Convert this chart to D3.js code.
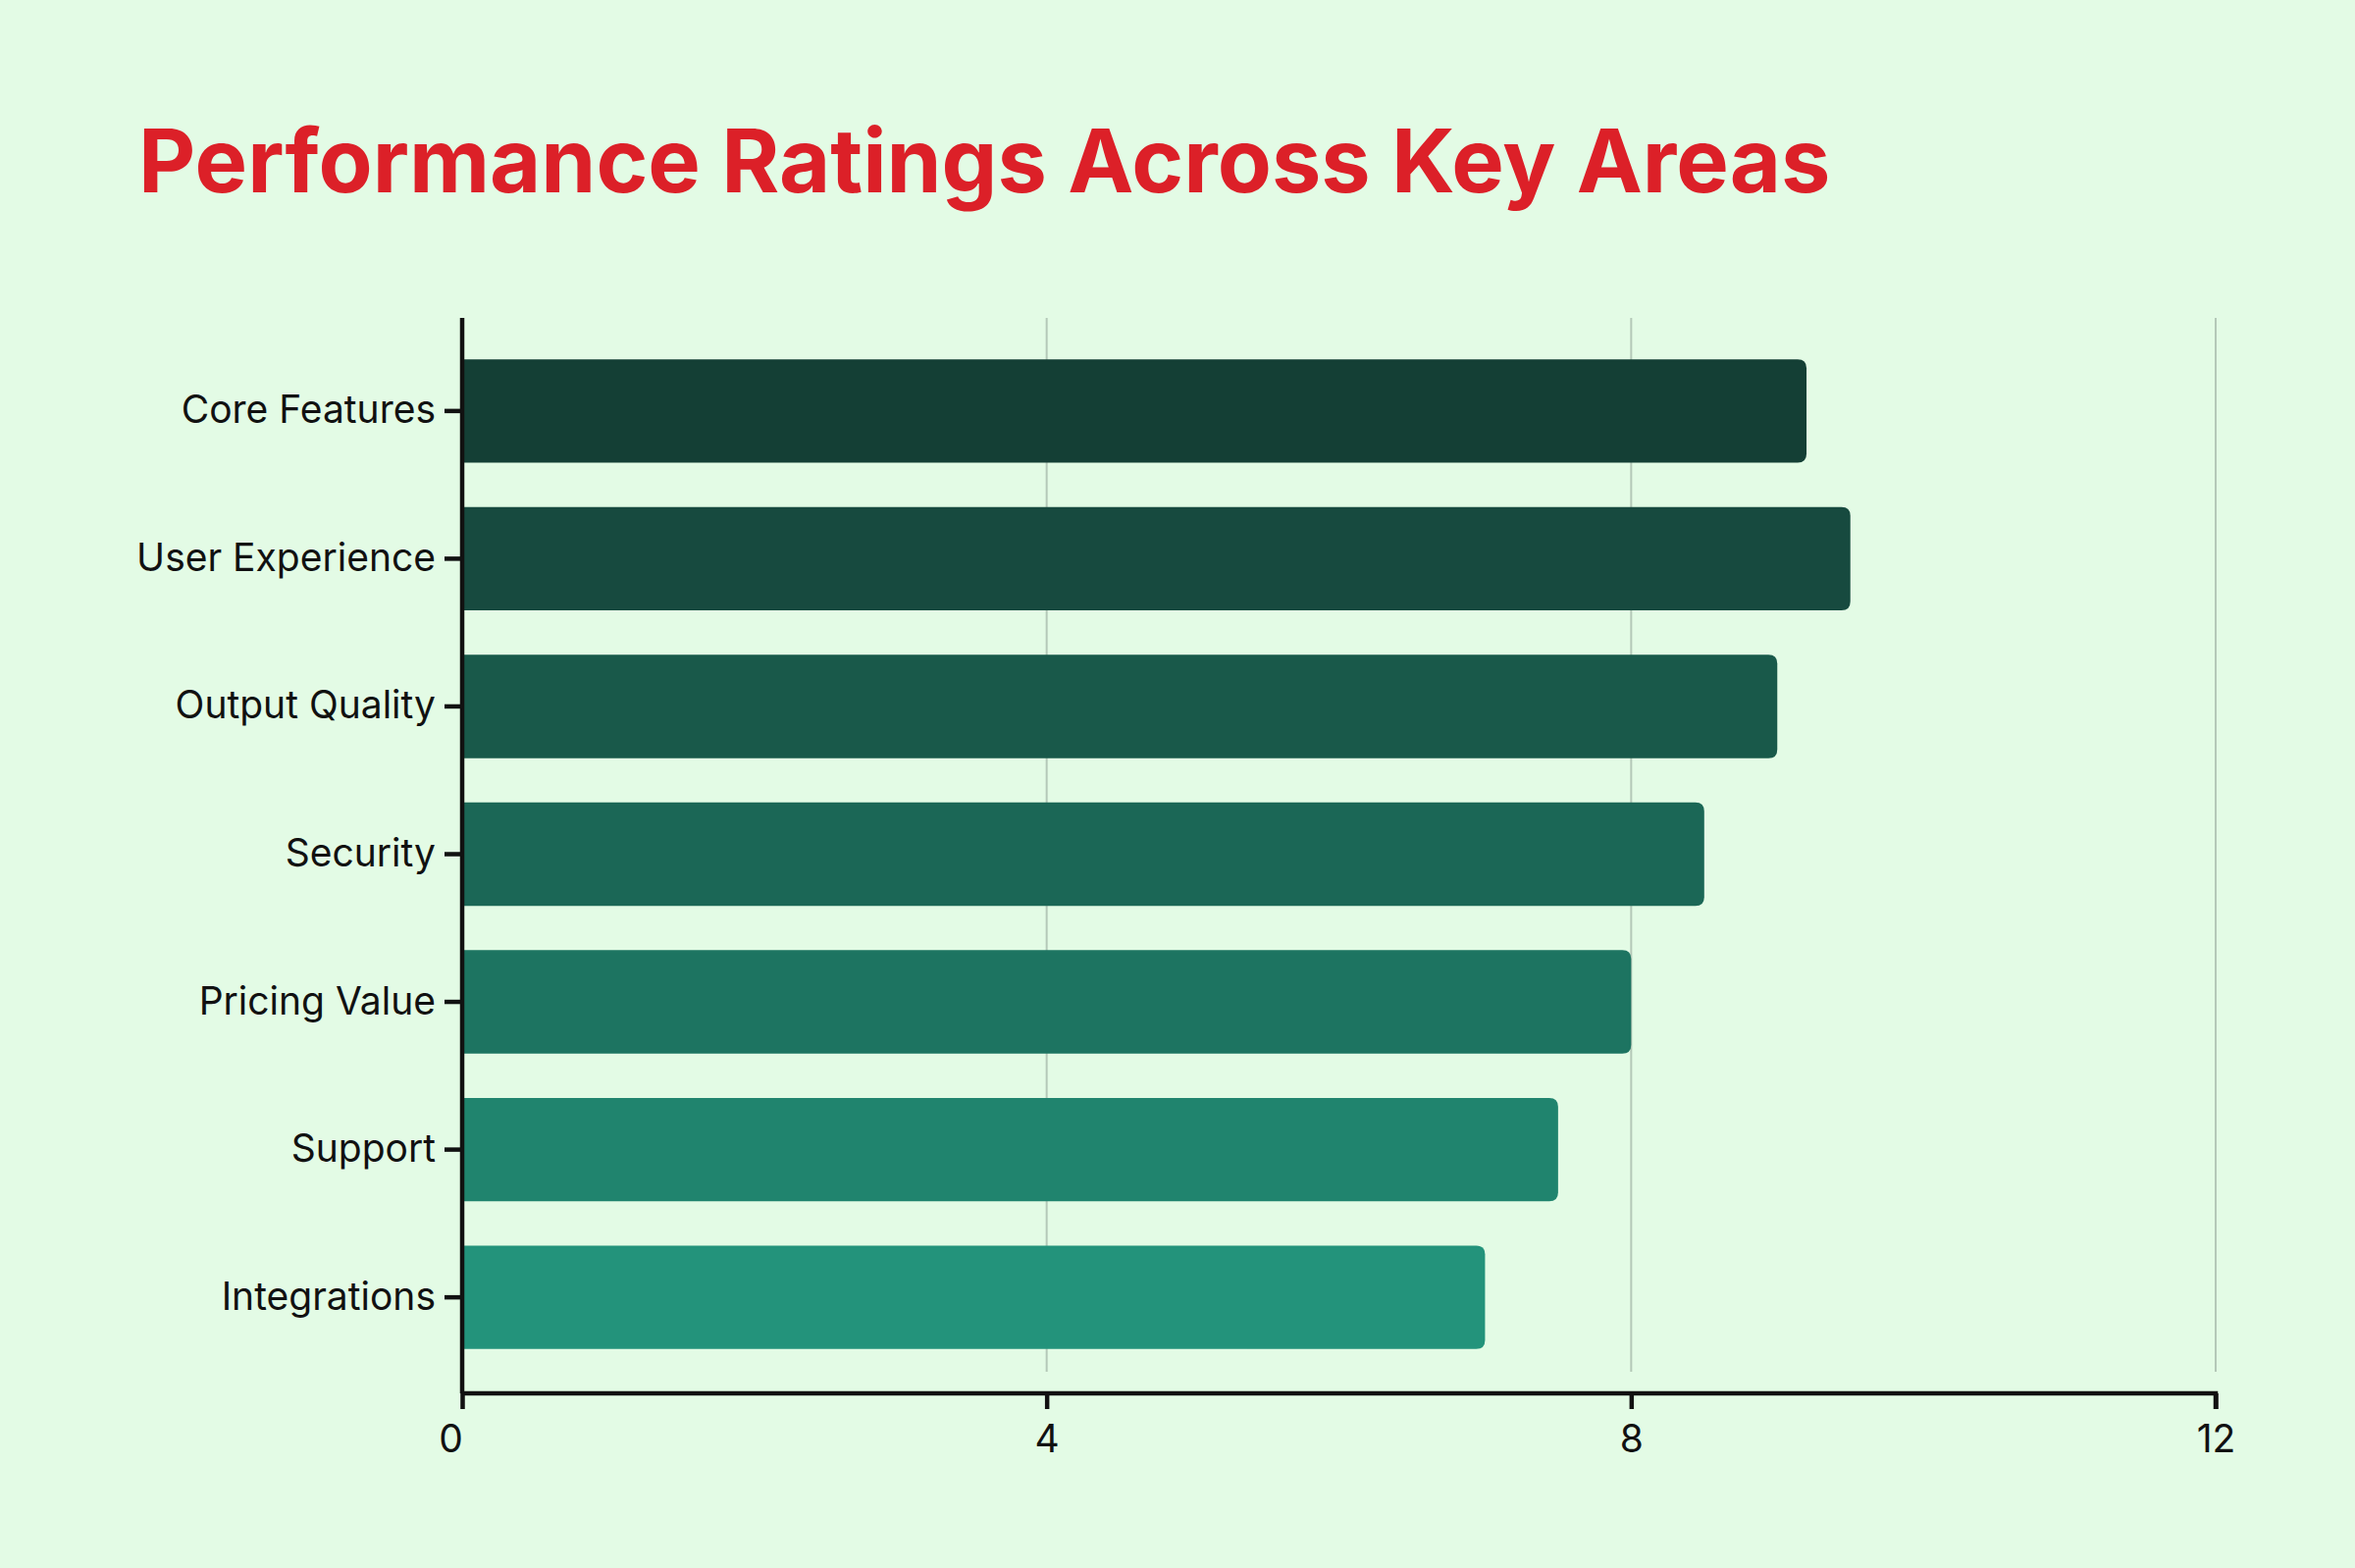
<!DOCTYPE html>
<html>
<head>
<meta charset="utf-8">
<script src="https://cdn.jsdelivr.net/npm/d3@7"></script>
<style>
  html, body { margin: 0; padding: 0; background: #e3fbe5; }
  svg { display: block; font-family: Inter, "Noto Sans", sans-serif; }
</style>
</head>
<body>
<svg width="2400" height="1598"></svg>
<script>
var categories = ["Core Features", "User Experience", "Output Quality", "Security", "Pricing Value", "Support", "Integrations"];
var ratings = [9.2, 9.5, 9.0, 8.5, 8.0, 7.5, 7.0];
var barColors = ["#143f35", "#174a3f", "#19594a", "#1b6756", "#1d7461", "#20846e", "#23937b"];
var xTicks = [0, 4, 8, 12];

function main(){
    var data = categories.map(function(c, i){ return {name: c, value: ratings[i], color: barColors[i]}; });

    var svg = d3.select("svg");

    svg.append("rect").attr("width", 2400).attr("height", 1598).attr("fill", "#e3fbe5");

    svg.append("text")
        .attr("x", 141)
        .attr("y", 196)
        .attr("fill", "#dc2028")
        .attr("font-size", "90px")
        .attr("font-weight", 700)
        .text("Performance Ratings Across Key Areas");

    var plotLeft = 471, plotRight = 2258, plotTop = 324, plotBottom = 1420;

    var xScale = d3.scaleLinear().domain([0, 12]).range([plotLeft, plotRight]);
    var yScale = d3.scaleBand().domain(categories).range([plotTop - 3, plotBottom]).paddingInner(0.3).paddingOuter(0.3);

    // grid
    svg.append("g").selectAll("line").data(xTicks.slice(1)).enter().append("line")
        .attr("x1", function(d){ return xScale(d); })
        .attr("x2", function(d){ return xScale(d); })
        .attr("y1", plotTop)
        .attr("y2", plotBottom - 22)
        .attr("stroke", "#b4c8b8")
        .attr("stroke-width", 2);

    // bars, rounded on the right end only
    var r = 9;
    svg.append("g").selectAll("path").data(data).enter().append("path")
        .attr("fill", function(d){ return d.color; })
        .attr("d", function(d){
            var x0 = xScale(0), x1 = xScale(d.value), y0 = yScale(d.name), h = yScale.bandwidth();
            return "M" + x0 + "," + y0 +
                "H" + (x1 - r) +
                "Q" + x1 + "," + y0 + " " + x1 + "," + (y0 + r) +
                "V" + (y0 + h - r) +
                "Q" + x1 + "," + (y0 + h) + " " + (x1 - r) + "," + (y0 + h) +
                "H" + x0 + "Z";
        });

    var yAxis = svg.append("g")
        .attr("transform", "translate(" + plotLeft + ",0)")
        .call(d3.axisLeft(yScale).tickSize(18).tickPadding(9));

    var xAxis = svg.append("g")
        .attr("transform", "translate(0," + plotBottom + ")")
        .call(d3.axisBottom(xScale).tickValues(xTicks).tickSize(16).tickPadding(16));

    [yAxis, xAxis].forEach(function(a){
        a.select(".domain").attr("stroke", "#111").attr("stroke-width", 4.5);
        a.selectAll(".tick line").attr("stroke", "#111").attr("stroke-width", 4.5);
        a.selectAll(".tick text").attr("fill", "#111").attr("font-size", "39px").attr("font-family", "Inter, sans-serif");
    });
    // the "0" label sits a little left of its tick
    xAxis.selectAll(".tick text").filter(function(d){ return d === 0; }).attr("dx", -12);
    yAxis.select(".domain").attr("d", "M0," + plotTop + "V" + plotBottom);
    xAxis.select(".domain").attr("d", "M" + plotLeft + ",0H" + plotRight + "V16");
}
main();
</script>
</body>
</html>
